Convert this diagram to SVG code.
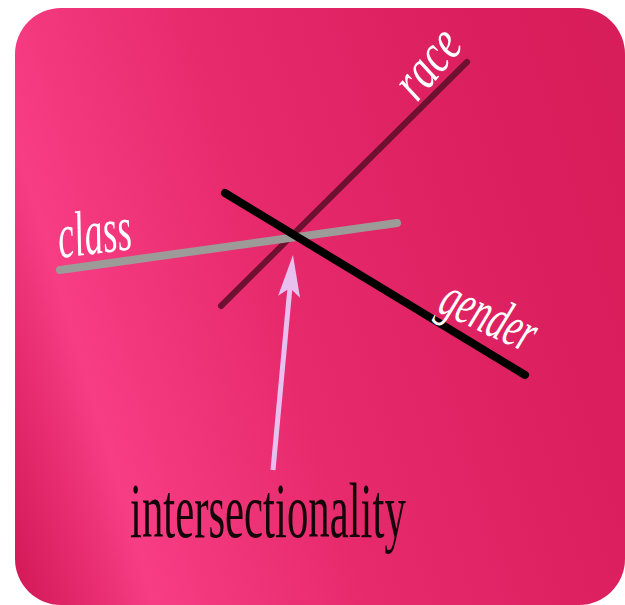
<svg xmlns="http://www.w3.org/2000/svg" width="625" height="605" viewBox="0 0 625 605">
  <defs>
    <linearGradient id="bg" gradientUnits="userSpaceOnUse" x1="-55" y1="334" x2="731" y2="99">
      <stop offset="0" stop-color="#d41a58"/>
      <stop offset="0.15" stop-color="#f73d84"/>
      <stop offset="0.4" stop-color="#e72a6c"/>
      <stop offset="0.7" stop-color="#dc1f5e"/>
      <stop offset="1" stop-color="#d61c5a"/>
    </linearGradient>
    <marker id="head" markerUnits="userSpaceOnUse" viewBox="-44 -12 46 24" markerWidth="46" markerHeight="24" refX="-30" refY="0" orient="auto">
      <path d="M0,0 L-42,-11 L-33,0 L-42,11 Z" fill="#e8c0f0"/>
    </marker>
  </defs>
  <style>
    .axis { fill: none; stroke-linecap: round; }
    .script { font-family: "Liberation Serif", serif; font-style: italic; fill: #ffffff; }
    .title { font-family: "Liberation Serif", serif; fill: #140509; }
  </style>
  <rect x="15" y="8" width="610" height="597" rx="46" ry="46" fill="url(#bg)"/>

  <g id="race">
    <line class="axis" x1="221" y1="306" x2="467" y2="62" stroke="#6e1030" stroke-width="6"/>
    <text class="script" x="0" y="0" font-size="56" transform="translate(417,103) rotate(-50) scale(0.744,1)">race</text>
  </g>
  <g id="class">
    <line class="axis" x1="60" y1="270" x2="397" y2="223" stroke="#9d9b98" stroke-width="8"/>
    <text class="script" x="0" y="0" font-size="64" transform="translate(60,258) rotate(-7) scale(0.578,1)">class</text>
  </g>
  <g id="gender">
    <line class="axis" x1="225" y1="193" x2="525" y2="375" stroke="#000000" stroke-width="8"/>
    <text class="script" x="0" y="0" font-size="58" transform="translate(436,311) rotate(25) scale(0.621,1)">gender</text>
  </g>
  <g id="intersectionality">
    <text class="title" x="0" y="0" font-size="78" transform="translate(130,537) scale(0.549,1)">intersectionality</text>
  </g>
  <g id="connectors">
    <line x1="273" y1="470" x2="290.2" y2="284.9" stroke="#e8c0f0" stroke-width="5" marker-end="url(#head)"/>
  </g>
</svg>
